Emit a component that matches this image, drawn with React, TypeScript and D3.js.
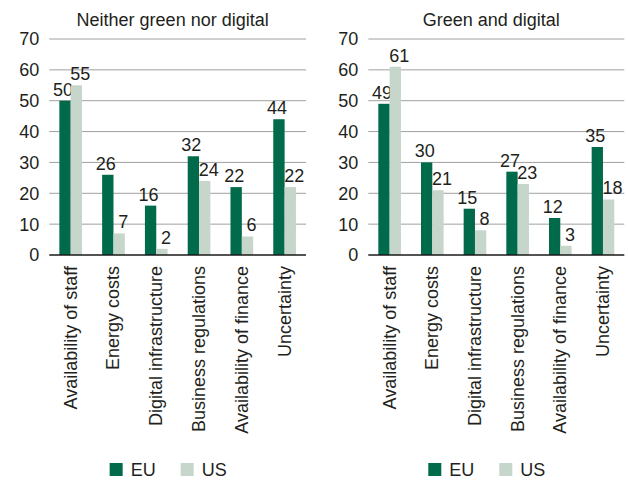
import * as React from 'react'
import * as d3 from 'd3'

const categories = [
    'Availability of staff',
    'Energy costs',
    'Digital infrastructure',
    'Business regulations',
    'Availability of finance',
    'Uncertainty',
]
const series = ['EU', 'US']
const neitherEU = [50, 26, 16, 32, 22, 44]
const neitherUS = [55, 7, 2, 24, 6, 22]
const greenEU = [49, 30, 15, 27, 12, 35]
const greenUS = [61, 21, 8, 23, 3, 18]
const yTicks = [0, 10, 20, 30, 40, 50, 60, 70]

const WIDTH = 628
const HEIGHT = 480
const FONT = '"Liberation Sans", Arial, Helvetica, sans-serif'
const FONT_SIZE = 18
const TEXT = '#231f20'
const COLORS = ['#006a4a', '#c6d6cb']
const GRID = '#a0a0a0'

interface PanelProps {
    title: string
    eu: number[]
    us: number[]
    x0: number
    x1: number
}

function Panel(props: PanelProps) {
    const TOP = 39
    const BOTTOM = 255

    const x = d3.scaleBand<string>()
        .domain(categories)
        .range([props.x0, props.x1])
        .paddingInner(0.47)
        .paddingOuter(0.235)
    const xs = d3.scaleBand<string>()
        .domain(series)
        .range([0, x.bandwidth()])
    const y = d3.scaleLinear().domain([0, 70]).range([BOTTOM, TOP])

    const values = [props.eu, props.us]
    const labelDx = [-2, 4]

    // legend sits under the rotated category labels
    const legendX = (props.x0 + props.x1) / 2 - 68

    return <g>
        <text
            x={(props.x0 + props.x1) / 2 - 5}
            y={26}
            textAnchor="middle"
            fontSize={FONT_SIZE}
            fill={TEXT}
        >{props.title}</text>

        {yTicks.map(t =>
            <g key={t}>
                {t > 0 && <line x1={props.x0} x2={props.x1} y1={y(t)} y2={y(t)} stroke={GRID} strokeWidth={1} />}
                <text
                    x={props.x0 - 10}
                    y={y(t)}
                    dy="0.36em"
                    textAnchor="end"
                    fontSize={FONT_SIZE}
                    fill={TEXT}
                >{t}</text>
            </g>
        )}

        {categories.map((c, i) =>
            <g key={c}>
                {series.map((s, j) =>
                    <g key={s}>
                        <rect
                            x={(x(c) as number) + (xs(s) as number)}
                            y={y(values[j][i])}
                            width={xs.bandwidth()}
                            height={BOTTOM - y(values[j][i])}
                            fill={COLORS[j]}
                        />
                        <text
                            x={(x(c) as number) + (xs(s) as number) + xs.bandwidth() / 2 + labelDx[j]}
                            y={y(values[j][i]) - 5}
                            textAnchor="middle"
                            fontSize={FONT_SIZE}
                            fill={TEXT}
                        >{values[j][i]}</text>
                    </g>
                )}
                <text
                    transform={`translate(${(x(c) as number) + x.bandwidth() / 2} ${BOTTOM + 11}) rotate(-90)`}
                    dy="0.33em"
                    textAnchor="end"
                    fontSize={FONT_SIZE}
                    fill={TEXT}
                >{c}</text>
            </g>
        )}

        <line x1={props.x0} x2={props.x1} y1={y(0)} y2={y(0)} stroke="#1a1a1a" strokeWidth={1.6} />

        {series.map((s, j) =>
            <g key={s} transform={`translate(${legendX + j * 71} 463)`}>
                <rect width={13} height={13} fill={COLORS[j]} />
                <text x={21} y={13} fontSize={FONT_SIZE} fill={TEXT}>{s}</text>
            </g>
        )}
    </g>
}

export default function App() {
    return <svg
        width={WIDTH}
        height={HEIGHT}
        style={{ position: 'absolute', left: 0, top: 0, background: '#fff' }}
        fontFamily={FONT}
    >
        <Panel title="Neither green nor digital" eu={neitherEU} us={neitherUS} x0={49.3} x1={306} />
        <Panel title="Green and digital" eu={greenEU} us={greenUS} x0={368.3} x1={624.3} />
    </svg>
}
